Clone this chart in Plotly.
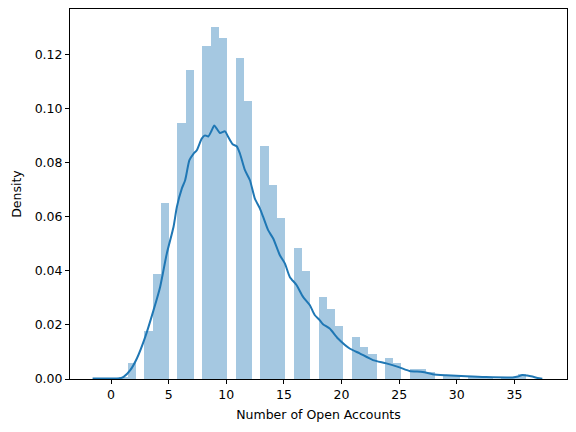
import numpy as np
import plotly.graph_objects as go

# histogram: number of open accounts (integer values) and the bar heights (density)
open_accounts = [0, 1, 2, 3, 4, 5, 6, 7, 8, 9, 10, 11, 12, 13, 14, 15, 16, 17, 18,
                 19, 20, 21, 22, 23, 24, 25, 26, 27, 28, 29, 30, 31, 32, 33, 34, 35, 36]
bar_density = [0.0001, 0.0004, 0.0060, 0.0179, 0.0389, 0.0653, 0.0948, 0.1144, 0.1233,
               0.1304, 0.1263, 0.1189, 0.1031, 0.0863, 0.0719, 0.0595, 0.0485, 0.0400,
               0.0304, 0.0259, 0.0197, 0.0156, 0.0119, 0.0093, 0.0078, 0.0059, 0.0037,
               0.0036, 0.0026, 0.0015, 0.0012, 0.0009, 0.0008, 0.0007, 0.0006, 0.0005, 0.0018]
bin_width = 0.72

# kde curve
kde_x = [-1.6, -0.5, 0.8, 1.09, 1.67, 2.25, 2.97, 3.69, 4.26, 4.84, 5.42, 5.71, 6.14, 6.43,
         6.8, 7.15, 7.44, 7.87, 8.16, 8.44, 8.73, 8.96, 9.17, 9.45, 9.89, 10.17, 10.55,
         10.9, 11.19, 11.62, 12.05, 12.48, 12.92, 13.2, 13.63, 14.07, 14.65, 15.08, 15.51,
         16.09, 16.66, 17.24, 17.67, 18.1, 18.39, 18.97, 19.69, 20.7, 21.57, 22.72, 23.88,
         25.03, 25.89, 27.04, 27.9, 29.07, 30.8, 32.53, 34.83, 35.3, 35.69, 36.1, 36.56, 37.0, 37.42]
kde_y = [0.0002, 0.0002, 0.0003, 0.0008, 0.0033, 0.0077, 0.0156, 0.0255, 0.0341, 0.0465,
         0.0563, 0.0637, 0.0705, 0.0736, 0.0810, 0.0834, 0.0847, 0.0890, 0.0902, 0.0898,
         0.0920, 0.0939, 0.0927, 0.0911, 0.0917, 0.0896, 0.0869, 0.0862, 0.0834, 0.0773,
         0.0736, 0.0668, 0.0631, 0.0600, 0.0551, 0.0520, 0.0458, 0.0428, 0.0378, 0.0348,
         0.0304, 0.0274, 0.0237, 0.0218, 0.0203, 0.0187, 0.0150, 0.0113, 0.0095, 0.0070,
         0.0058, 0.0043, 0.0030, 0.0026, 0.0018, 0.0014, 0.0010, 0.0007, 0.0006, 0.0009,
         0.0015, 0.0013, 0.0009, 0.0004, 0.0001]

# bars sit in 50 bins of width 0.72 starting at 0
bin_idx = np.minimum(np.floor(np.array(open_accounts) / bin_width), 49)
bar_x = (bin_idx + 0.5) * bin_width

fig = go.Figure()
fig.add_trace(go.Bar(x=bar_x, y=bar_density, width=bin_width,
                     marker=dict(color='#a5c8e1', line=dict(width=0)), showlegend=False))
fig.add_trace(go.Scatter(x=kde_x, y=kde_y, mode='lines', line=dict(color='#1f77b4', width=2,
                         shape='spline', smoothing=0.6), showlegend=False))

axis_style = dict(showline=True, mirror=True, linecolor='black', linewidth=1, ticks='outside',
                  ticklen=4, tickcolor='black', showgrid=False, zeroline=False, automargin=False,
                  tickfont=dict(size=12.5, color='black'))
fig.update_xaxes(range=[-3.56, 39.56], tickvals=[0, 5, 10, 15, 20, 25, 30, 35],
                 title=dict(text='Number of Open Accounts', font=dict(size=12.5, color='black'),
                            standoff=9), **axis_style)
fig.update_yaxes(range=[0, 0.137], tickvals=[0, 0.02, 0.04, 0.06, 0.08, 0.10, 0.12],
                 tickformat='.2f',
                 title=dict(text='Density', font=dict(size=12.5, color='black'), standoff=10),
                 **axis_style)
# page keeps an 8px body margin, so the figure is a bit smaller than the window
fig.update_layout(width=568, height=424, bargap=0, plot_bgcolor='white', paper_bgcolor='white',
                  margin=dict(l=62, r=9, t=1, b=53),
                  font=dict(family='DejaVu Sans', size=12.5, color='black'))
fig.write_html("out.html")
